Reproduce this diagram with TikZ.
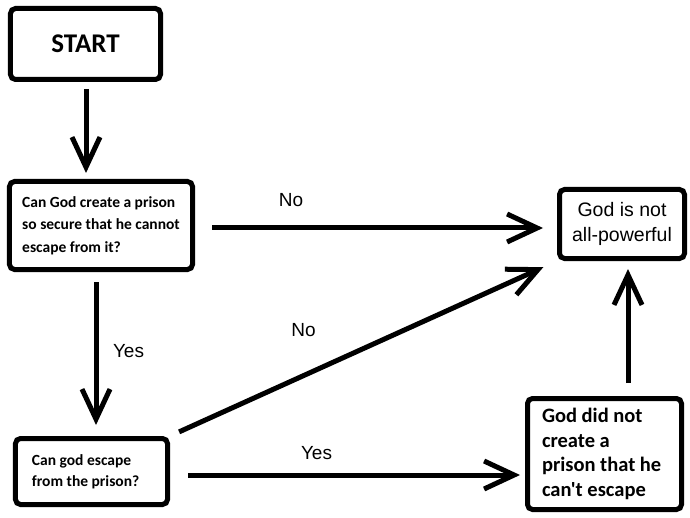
\documentclass[tikz,border=0pt]{standalone}
\usepackage{fontspec}
\newfontfamily\calibf{Carlito}
\newfontfamily\arialf{Liberation Sans}
\usetikzlibrary{arrows.meta,calc}
\tikzset{
  box/.style={draw=black, line width=5bp, rounded corners=5bp, fill=white, inner sep=0pt, anchor=center},
  arr/.style={line width=5bp, -{Straight Barb[length=30bp,width=28bp]}},
  lbl/.style={font=\arialf\fontsize{19bp}{22bp}\selectfont, inner sep=0pt, anchor=center}
}
\begin{document}
\begin{tikzpicture}[x=1bp,y=-1bp]
\useasboundingbox[fill=white] (0,0) rectangle (690,518);
\node[box, minimum width=150bp, minimum height=71bp, font=\calibf\bfseries\fontsize{27bp}{32bp}\selectfont] (start) at (85.5,44) {START};
\node[box, minimum width=183bp, minimum height=88bp, align=flush left, font=\calibf\bfseries\fontsize{15.5bp}{22.5bp}\selectfont] (q1) at (101,225.5) {Can God create a prison\\so secure that he cannot\\escape from it?};
\node[box, minimum width=152bp, minimum height=66bp, text width=119bp, align=flush left, font=\calibf\bfseries\fontsize{15.5bp}{21bp}\selectfont] (q2) at (91.5,471.5) {Can god escape\\from the prison?};
\node[box, minimum width=154bp, minimum height=111bp, text width=125bp, align=flush left, font=\calibf\bfseries\fontsize{20.5bp}{24.5bp}\selectfont] (nc) at (604.5,454) {God did not\\create a\\prison that he\\can't escape};
\node[box, minimum width=125bp, minimum height=69bp, align=center, font=\arialf\fontsize{19.5bp}{25bp}\selectfont] (np) at (622,224) {God is not\\all-powerful};

\draw[arr, shorten <=7bp, shorten >=6bp] ([xshift=0.5bp]start.south) -- ([xshift=0.5bp]start.south |- q1.north);
\draw[arr, shorten <=17bp, shorten >=14bp] ([yshift=-2.5bp]q1.east) -- ([yshift=-2.5bp]q1.east -| np.west);
\draw[arr, shorten <=10bp, shorten >=15bp] (q2.north east) -- (np.south west);
\draw[arr, shorten <=18bp, shorten >=5bp] ([yshift=-3.5bp]q2.east) -- ([yshift=-3.5bp]q2.east -| nc.west);
\draw[arr, shorten <=10bp, shorten >=11bp] ([xshift=-5bp]q1.south) -- ([xshift=-5bp]q1.south |- q2.north);
\draw[arr, shorten <=13bp, shorten >=8bp] ([xshift=6bp]np.south |- nc.north) -- ([xshift=6bp]np.south);

\node[lbl] (l1) at (291,200) {No};
\node[lbl] (l2) at (128.5,351.5) {Yes};
\node[lbl] (l3) at (303.5,330.5) {No};
\node[lbl] (l4) at (316.5,453.5) {Yes};
\end{tikzpicture}
\end{document}
